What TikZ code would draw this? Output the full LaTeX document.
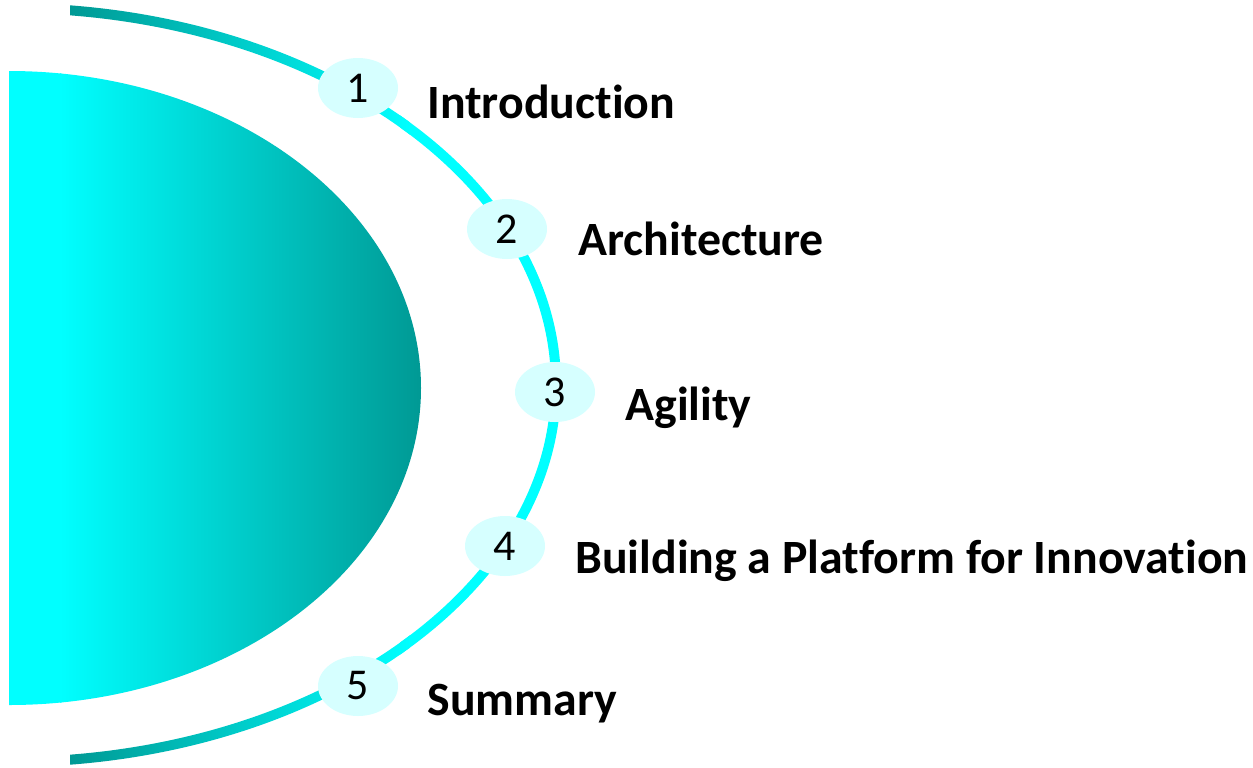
\documentclass[tikz,border=0pt]{standalone}
\usepackage{fontspec}
\setmainfont{Carlito}[Ligatures=NoCommon]
\usetikzlibrary{shapes.geometric}
\definecolor{deepteal}{RGB}{0,153,148}
\definecolor{aqua}{RGB}{0,255,255}
\definecolor{paleaqua}{RGB}{214,255,255}

\begin{document}
\begin{tikzpicture}[x=0.5pt,y=-0.5pt,
    stop/.style={ellipse,fill=paleaqua,minimum width=40pt,minimum height=30pt,inner sep=0pt,font=\fontsize{22}{26}\selectfont},
    topic/.style={anchor=base west,inner sep=0pt,font=\fontsize{23.9}{28}\selectfont\bfseries}]
      \useasboundingbox (0,0) rectangle (1253,767);

      \begin{scope}
        \clip (9,0) rectangle (450,767);
        \clip (9,388) ellipse [x radius=412, y radius=317];
        \fill[aqua] (9,60) rectangle (62,720);
        \shade[left color=aqua,right color=deepteal] (60,60) rectangle (422,720);
      \end{scope}

      \begin{scope}[even odd rule]
        \clip (70,0) rectangle (600,767);
        \clip (9,385) ellipse [x radius=552, y radius=382] (9,385) ellipse [x radius=542, y radius=372];
        \fill[aqua] (400,0) rectangle (600,767);
        \shade[left color=deepteal,right color=aqua] (70,0) rectangle (410,767);
      \end{scope}

      \node[stop] (n1) at (358,88) {1};
      \node[stop] (n2) at (507,229) {2};
      \node[stop] (n3) at (555,392) {3};
      \node[stop] (n4) at (505,546) {4};
      \node[stop] (n5) at (358,686) {5};

      \node[topic] (t1) at (427,118) {Introduction};
      \node[topic] (t2) at (578,255) {Architecture};
      \node[topic] (t3) at (625,420) {Agility};
      \node[topic] (t4) at (575,573) {Building a Platform for Innovation};
      \node[topic] (t5) at (427,715) {Summary};
    \end{tikzpicture}
\end{document}
